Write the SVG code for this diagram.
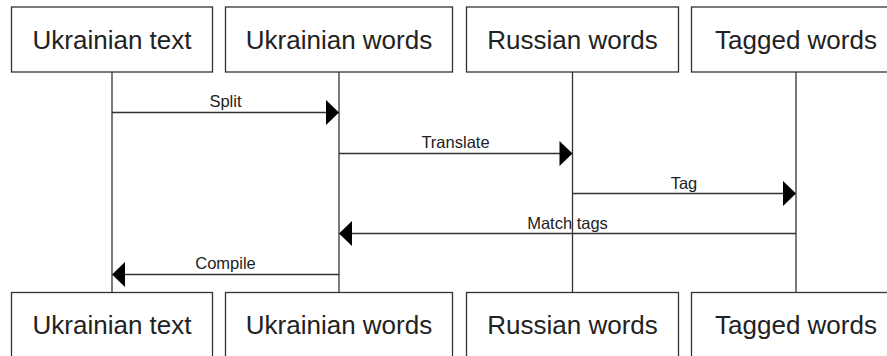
<svg xmlns="http://www.w3.org/2000/svg" width="887" height="356" viewBox="0 0 887 356">
<style>
.box{fill:#fff;stroke:#333;stroke-width:1.3}
.life{stroke:#333;stroke-width:1.3;fill:none}
.msg{stroke:#333;stroke-width:1.3;fill:none}
.head{fill:#000}
.nt{font-family:"Liberation Sans",Arial,sans-serif;font-size:26px;fill:#222;text-anchor:middle}
.lt{font-family:"Liberation Sans",Arial,sans-serif;font-size:16.5px;fill:#222;text-anchor:middle}
</style>
<rect width="887" height="356" fill="#fff"/>
<g id="lifelines">
<line class="life" x1="112" y1="72" x2="112" y2="292.5"/>
<line class="life" x1="339" y1="72" x2="339" y2="292.5"/>
<line class="life" x1="572.5" y1="72" x2="572.5" y2="292.5"/>
<line class="life" x1="796" y1="72" x2="796" y2="292.5"/>
</g>
<g id="node-ukr-text-top"><rect class="box" x="11.5" y="7" width="201" height="65"/><text class="nt" x="112" y="49">Ukrainian text</text></g>
<g id="node-ukr-words-top"><rect class="box" x="225.5" y="7" width="227" height="65"/><text class="nt" x="339" y="49">Ukrainian words</text></g>
<g id="node-rus-words-top"><rect class="box" x="466.5" y="7" width="212" height="65"/><text class="nt" x="572.5" y="49">Russian words</text></g>
<g id="node-tagged-words-top"><rect class="box" x="691.5" y="7" width="209" height="65"/><text class="nt" x="796" y="49">Tagged words</text></g>
<g id="node-ukr-text-bottom"><rect class="box" x="11.5" y="292.5" width="201" height="65"/><text class="nt" x="112" y="334">Ukrainian text</text></g>
<g id="node-ukr-words-bottom"><rect class="box" x="225.5" y="292.5" width="227" height="65"/><text class="nt" x="339" y="334">Ukrainian words</text></g>
<g id="node-rus-words-bottom"><rect class="box" x="466.5" y="292.5" width="212" height="65"/><text class="nt" x="572.5" y="334">Russian words</text></g>
<g id="node-tagged-words-bottom"><rect class="box" x="691.5" y="292.5" width="209" height="65"/><text class="nt" x="796" y="334">Tagged words</text></g>
<g id="connectors">
<line class="msg" x1="112" y1="112.5" x2="327" y2="112.5"/>
<polygon class="head" points="326,100 339,112.5 326,125"/>
<text class="lt" x="225.5" y="107">Split</text>
<line class="msg" x1="339" y1="153.5" x2="560" y2="153.5"/>
<polygon class="head" points="559.5,141 572.5,153.5 559.5,166"/>
<text class="lt" x="455.5" y="147.5">Translate</text>
<line class="msg" x1="572.5" y1="193.5" x2="784" y2="193.5"/>
<polygon class="head" points="783,181 796,193.5 783,206"/>
<text class="lt" x="684" y="189">Tag</text>
<line class="msg" x1="796" y1="233.5" x2="351" y2="233.5"/>
<polygon class="head" points="352,221 339,233.5 352,246"/>
<text class="lt" x="567.5" y="229">Match tags</text>
<line class="msg" x1="339" y1="274.5" x2="124" y2="274.5"/>
<polygon class="head" points="125,262 112,274.5 125,287"/>
<text class="lt" x="225.5" y="269">Compile</text>
</g>
</svg>
